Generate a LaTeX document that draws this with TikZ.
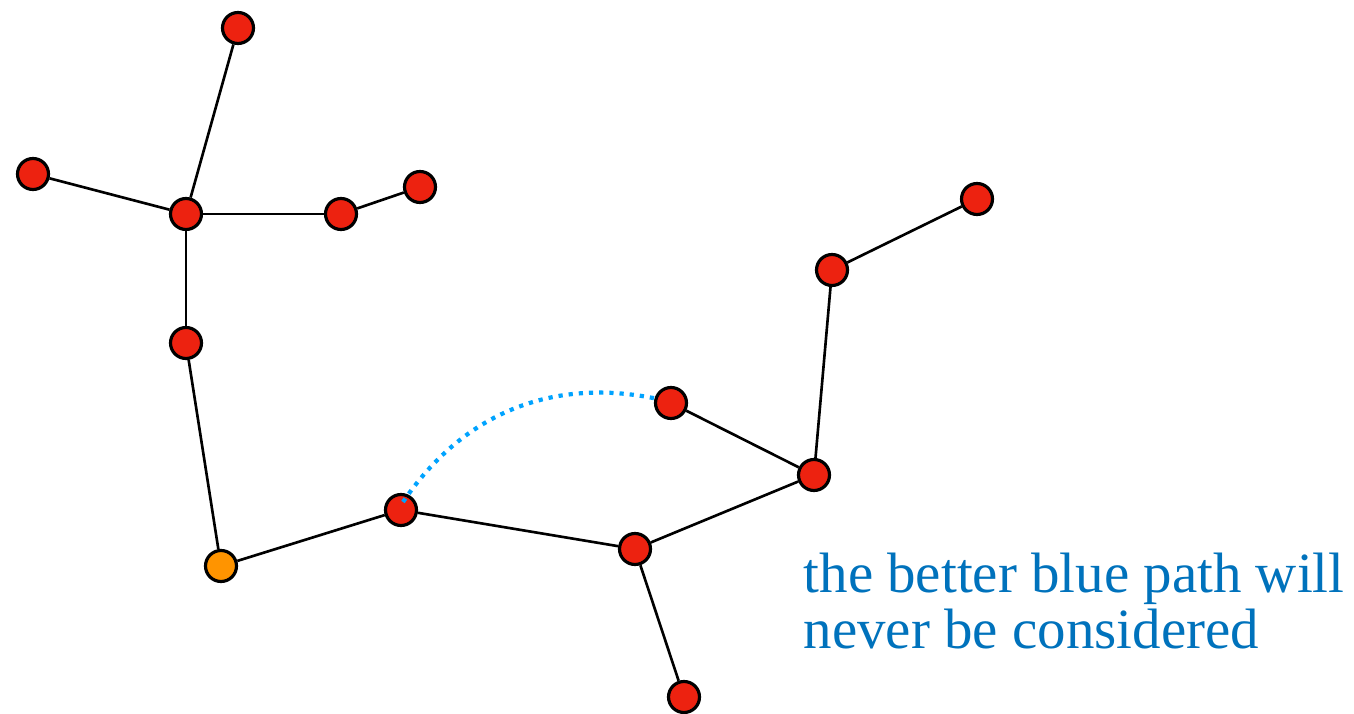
\documentclass[tikz,border=0pt]{standalone}
\usepackage{fontspec}
\setmainfont{Liberation Serif}
\usetikzlibrary{backgrounds}
\usetikzlibrary{calc}
\definecolor{vred}{RGB}{237,34,16}
\definecolor{vorange}{RGB}{255,148,0}
\definecolor{pathblue}{RGB}{0,163,255}
\definecolor{noteblue}{RGB}{0,114,188}
\tikzset{vtx/.style={circle,draw=black,line width=0.9pt,fill=vred,inner sep=0pt,minimum size=0.31cm},
  src/.style={vtx,fill=vorange},
  edge/.style={line width=0.75pt,black}}

\begin{document}
\begin{tikzpicture}
\useasboundingbox (0,0) rectangle (13.54,7.13);
\node at (2.38,6.85) (T) [vtx] {};
\node at (0.33,5.39) (L) [vtx] {};
\node at (1.86,4.99) (H) [vtx] {};
\node at (3.41,4.99) (M) [vtx] {};
\node at (4.20,5.26) (N) [vtx] {};
\node at (1.86,3.70) (V) [vtx] {};
\node at (2.21,1.47) (S) [src] {};
\node at (4.01,2.03) (B) [vtx] {};
\node at (6.35,1.64) (D) [vtx] {};
\node at (6.84,0.16) (E) [vtx] {};
\node at (8.14,2.38) (F) [vtx] {};
\node at (6.71,3.10) (C) [vtx] {};
\node at (8.32,4.43) (G) [vtx] {};
\node at (9.77,5.14) (K) [vtx] {};

\begin{scope}[on background layer]
\draw [edge] (T) -- (H);
\draw [edge] (L) -- (H);
\draw [edge] (H) -- (M);
\draw [edge] (M) -- (N);
\draw [edge] (H) -- (V);
\draw [edge] (V) -- (S);
\draw [edge] (S) -- (B);
\draw [edge] (B) -- (D);
\draw [edge] (D) -- (E);
\draw [edge] (D) -- (F);
\draw [edge] (F) -- (C);
\draw [edge] (F) -- (G);
\draw [edge] (G) -- (K);
\end{scope}

% the shortcut that is never explored
\draw [pathblue,line width=1.2pt,dash pattern=on 1.2pt off 1.7pt]
  ($(B.center)+(0.02,0.08)$) to[out=56,in=168] ($(C.center)+(-0.13,0.04)$);

% base west of a two-line node sits on the last line
\node at (8.03,0.65) (note) [anchor=base west,align=left,inner sep=0pt,text=noteblue,
  font=\fontsize{16.2}{15.9}\selectfont] {the better blue path will\\never be considered};
\end{tikzpicture}
\end{document}
